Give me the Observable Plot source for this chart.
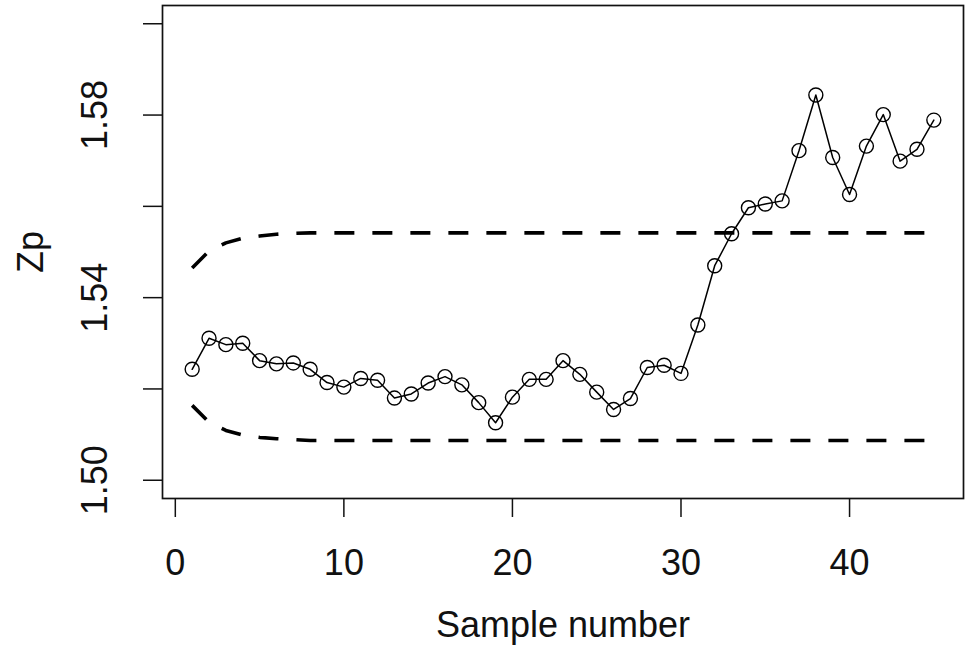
<!DOCTYPE html>
<html>
<head>
<meta charset="utf-8">
<script src="https://cdn.jsdelivr.net/npm/d3@7"></script>
<script src="https://cdn.jsdelivr.net/npm/@observablehq/plot@0.6"></script>
<style>
  html, body { margin: 0; padding: 0; background: #fff; }
  #chart svg { display: block; }
</style>
</head>
<body>
<div id="chart"></div>
<script>
// Sample numbers and plotted statistic Zp
const sampleNumber = d3.range(1, 46);
const zp = [
  1.5243, 1.5311, 1.5297, 1.5300, 1.5262, 1.5255, 1.5257, 1.5243, 1.5214, 1.5204,
  1.5223, 1.5219, 1.5180, 1.5189, 1.5213, 1.5227, 1.5209, 1.5170, 1.5126, 1.5182,
  1.5221, 1.5221, 1.5262, 1.5232, 1.5193, 1.5155, 1.5179, 1.5247, 1.5252, 1.5234,
  1.5340, 1.5470, 1.5540, 1.5597, 1.5605, 1.5612, 1.5722, 1.5844, 1.5707, 1.5626,
  1.5732, 1.5801, 1.5699, 1.5725, 1.5789
];

// Control limits (dashed)
const limitSample = [1, 2, 3, 4, 5, 6, 7, 8, 45];
const upperLimit = [1.5465, 1.5502, 1.5520, 1.5530, 1.5535, 1.5539, 1.5541, 1.5542, 1.5542];
const lowerLimit = [1.5164, 1.5127, 1.5109, 1.5099, 1.5094, 1.5091, 1.5089, 1.5087, 1.5087];

// Axis ticks
const xTicks = [0, 10, 20, 30, 40];
const yTicks = [1.50, 1.52, 1.54, 1.56, 1.58, 1.60];
const yTickLabels = [1.50, 1.54, 1.58];
const xTitle = "Sample number";
const yTitle = "Zp";

const points = sampleNumber.map((s, i) => ({s, z: zp[i]}));
const upper = limitSample.map((s, i) => ({s, v: upperLimit[i]}));
const lower = limitSample.map((s, i) => ({s, v: lowerLimit[i]}));

const font = "'Liberation Sans', Arial, Helvetica, sans-serif";

const chart = Plot.plot({
  width: 968,
  height: 650,
  marginLeft: 162,
  marginRight: 5,
  marginTop: 5,
  marginBottom: 152,
  style: {fontFamily: font, fontSize: "36px", color: "#111", background: "#fff", overflow: "visible"},
  x: {domain: [-0.76, 46.76]},
  y: {domain: [1.496, 1.604]},
  marks: [
    Plot.frame({stroke: "#111", strokeWidth: 1.7}),
    Plot.axisX(xTicks, {anchor: "bottom", tickSize: 19, strokeWidth: 1.5, stroke: "#111", tickFormat: () => "", label: null}),
    Plot.axisY(yTicks, {anchor: "left", tickSize: 19, strokeWidth: 1.5, stroke: "#111", tickFormat: () => "", label: null}),
    Plot.text(xTicks, {x: d => d, frameAnchor: "bottom", lineAnchor: "top", dy: 51, text: d => String(d), fontSize: 36, fill: "#111"}),
    Plot.text(yTickLabels, {y: d => d, frameAnchor: "left", dx: -67.5, rotate: -90, textAnchor: "middle", lineAnchor: "middle", text: d => d.toFixed(2), fontSize: 36, fill: "#111"}),
    Plot.text([xTitle], {frameAnchor: "bottom", lineAnchor: "top", dy: 113, text: d => d, fontSize: 36, fill: "#111"}),
    Plot.text([yTitle], {frameAnchor: "left", dx: -131, rotate: -90, textAnchor: "middle", lineAnchor: "middle", text: d => d, fontSize: 36, fill: "#111"}),
    Plot.line(upper, {x: "s", y: "v", stroke: "#000", strokeWidth: 3.6, strokeDasharray: "20,18", strokeLinecap: "butt"}),
    Plot.line(lower, {x: "s", y: "v", stroke: "#000", strokeWidth: 3.6, strokeDasharray: "20,18", strokeLinecap: "butt"}),
    Plot.line(points, {x: "s", y: "z", stroke: "#000", strokeWidth: 1.5}),
    Plot.dot(points, {x: "s", y: "z", r: 7, stroke: "#000", strokeWidth: 1.4, fill: "none"})
  ]
});
document.getElementById("chart").appendChild(chart);
</script>
</body>
</html>
